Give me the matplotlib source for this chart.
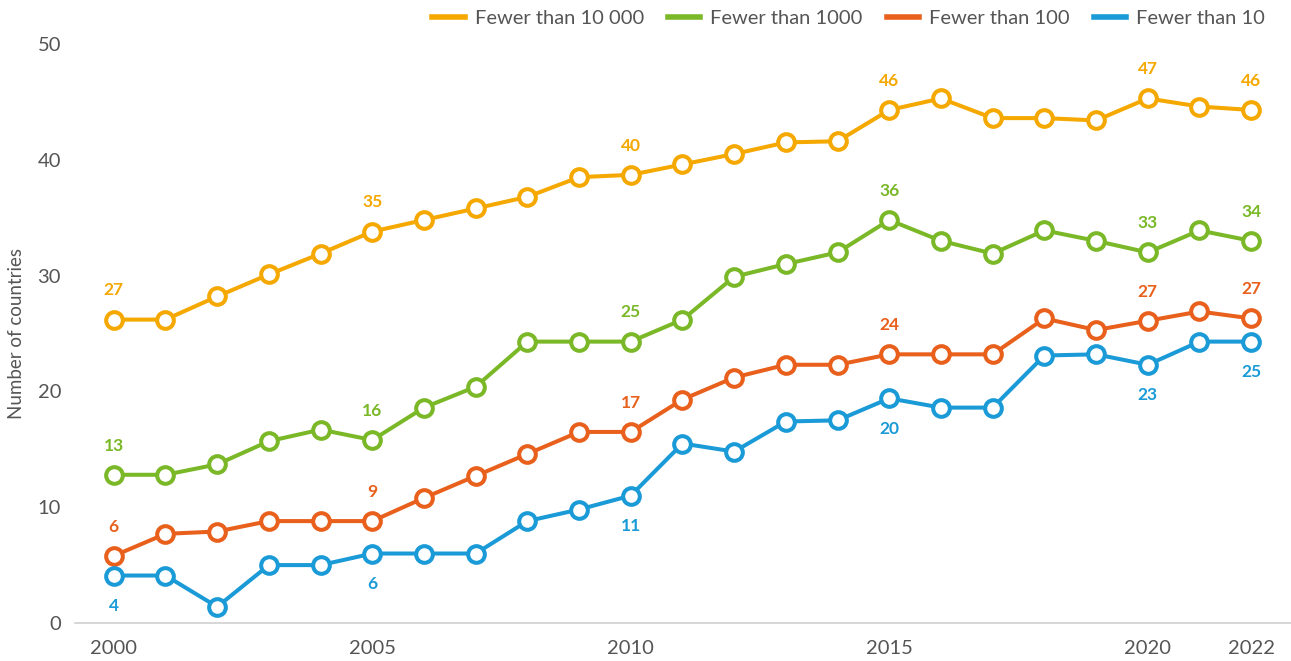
import matplotlib
matplotlib.use("Agg")
import matplotlib.pyplot as plt
import numpy as np

plt.rcParams["font.family"] = ["Lato", "DejaVu Sans"]

##################################################
# Data
years = np.arange(2000, 2023)

fewer_10000 = [26.2, 26.2, 28.2, 30.1, 31.9, 33.8, 34.8, 35.8, 36.8, 38.5, 38.7, 39.6,
               40.5, 41.5, 41.6, 44.3, 45.3, 43.6, 43.6, 43.4, 45.3, 44.6, 44.3]
fewer_1000 = [12.8, 12.8, 13.7, 15.7, 16.7, 15.8, 18.6, 20.4, 24.3, 24.3, 24.3, 26.2,
              29.9, 31.0, 32.0, 34.8, 33.0, 31.9, 33.9, 33.0, 32.0, 33.9, 33.0]
fewer_100 = [5.8, 7.7, 7.9, 8.8, 8.8, 8.8, 10.8, 12.7, 14.6, 16.5, 16.5, 19.3,
             21.2, 22.3, 22.3, 23.2, 23.2, 23.2, 26.3, 25.3, 26.1, 26.9, 26.3]
fewer_10 = [4.1, 4.1, 1.4, 5.0, 5.0, 6.0, 6.0, 6.0, 8.8, 9.8, 11.0, 15.5,
            14.8, 17.4, 17.5, 19.4, 18.6, 18.6, 23.1, 23.2, 22.3, 24.3, 24.3]

label_years = [2000, 2005, 2010, 2015, 2020, 2022]
labels_10000 = ["27", "35", "40", "46", "47", "46"]
labels_1000 = ["13", "16", "25", "36", "33", "34"]
labels_100 = ["6", "9", "17", "24", "27", "27"]
labels_10 = ["4", "6", "11", "20", "23", "25"]

series = [
    ("Fewer than 10 000", fewer_10000, labels_10000, "#F5A800", "above"),
    ("Fewer than 1000", fewer_1000, labels_1000, "#7AB828", "above"),
    ("Fewer than 100", fewer_100, labels_100, "#E8601C", "above"),
    ("Fewer than 10", fewer_10, labels_10, "#1A9AD6", "below"),
]

##################################################
# Plot
fig = plt.figure(figsize=(12.91, 6.61), dpi=100)
ax = fig.add_axes([75 / 1291, 38 / 661, 1 - 75 / 1291, 579 / 661])

handles = []
for name, vals, labs, color, where in series:
    ax.plot(years, vals, color=color, lw=2.9, marker="o", ms=12,
            mfc="white", mec=color, mew=2.9, zorder=3, label=name)
    handles.append(plt.Line2D([], [], color=color, lw=4, label=name))
    for yr, lab in zip(label_years, labs):
        v = vals[yr - 2000]
        off = 21 if where == "above" else -22
        ax.annotate(lab, (yr, v), xytext=(0, off), textcoords="offset points",
                    ha="center", va="center", color=color, fontsize=12.5,
                    fontweight="bold")

ax.set_xlim(1999.25, 2022.77)
ax.set_ylim(0, 50)
ax.set_xticks([2000, 2005, 2010, 2015, 2020, 2022])
ax.set_yticks(range(0, 51, 10))
ax.tick_params(length=0, labelsize=14.5, colors="#555555", pad=10)
ax.tick_params(axis="x", pad=12)
for s in ["top", "right", "left"]:
    ax.spines[s].set_visible(False)
ax.spines["bottom"].set_color("#d0d0d0")
ax.spines["bottom"].set_linewidth(1.2)
ax.set_ylabel("Number of countries", fontsize=13.5, color="#555555", labelpad=9)

fig.legend(handles=handles, loc="upper right", bbox_to_anchor=(0.994, 1.012),
           ncol=4, frameon=False, fontsize=14.5, handlelength=1.6,
           columnspacing=1.2, handletextpad=0.5, labelcolor="#555555")

fig.savefig("out.png", dpi=100)
